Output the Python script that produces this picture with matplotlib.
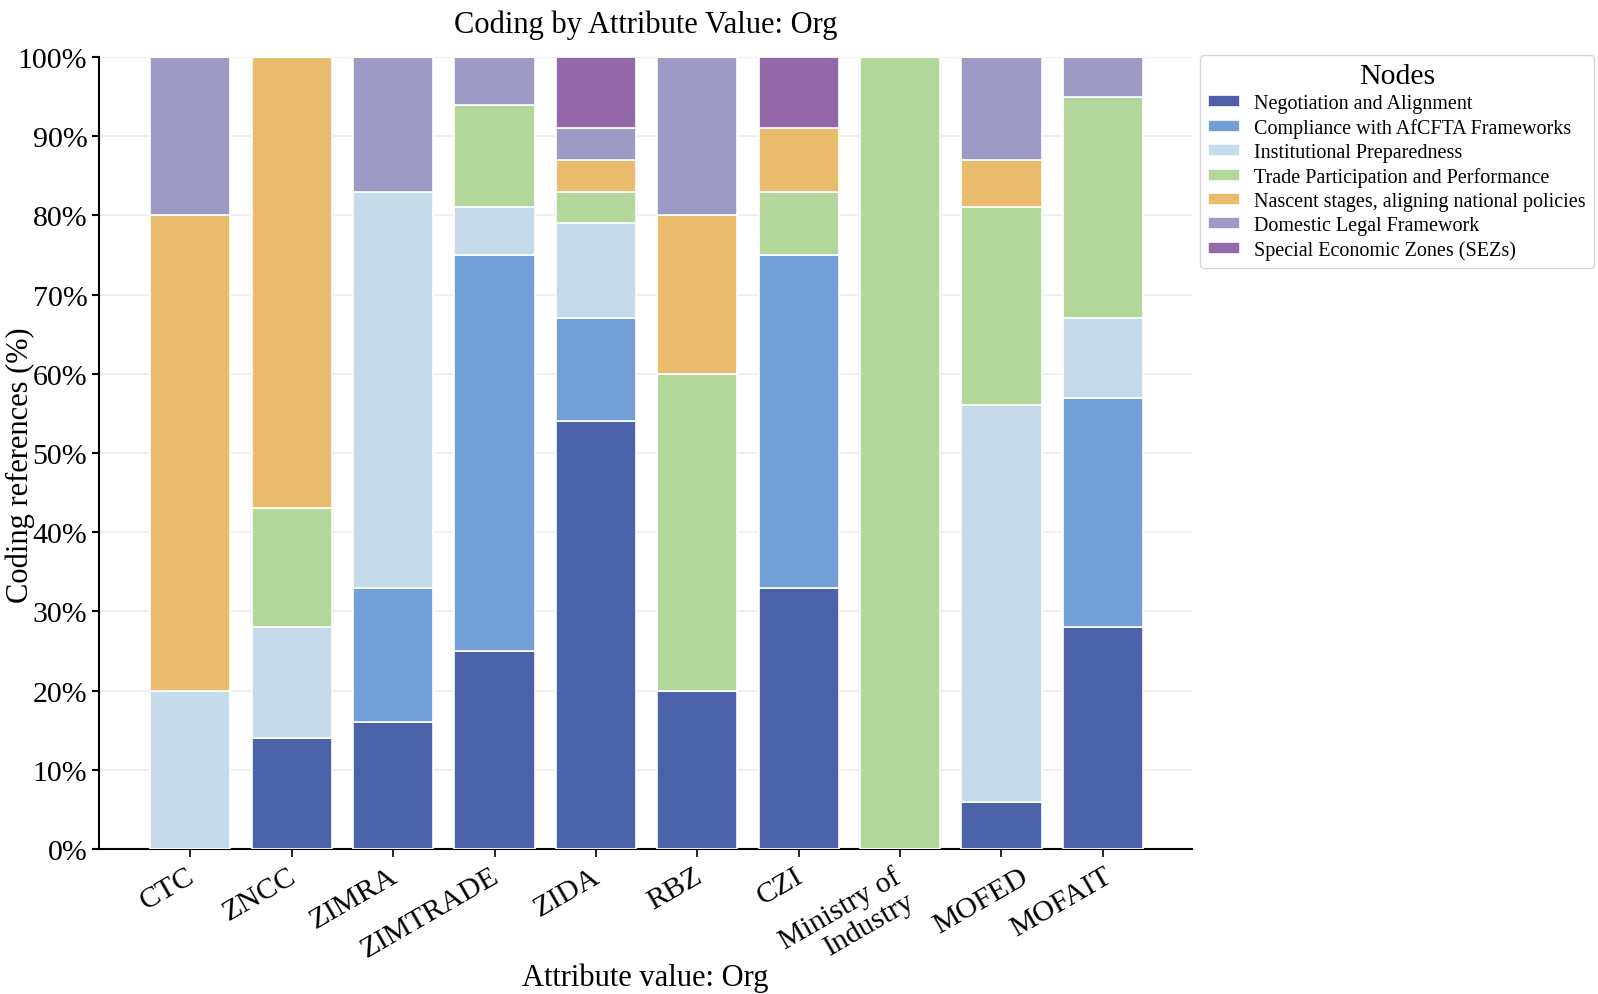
import numpy as np
import matplotlib.pyplot as plt
import matplotlib.transforms as mtransforms
from matplotlib.ticker import PercentFormatter

# Organisations (x axis)
orgs = ["CTC", "ZNCC", "ZIMRA", "ZIMTRADE", "ZIDA", "RBZ", "CZI",
        "Ministry of\nIndustry", "MOFED", "MOFAIT"]

# Nodes (stack order, bottom to top)
nodes = ["Negotiation and Alignment",
         "Compliance with AfCFTA Frameworks",
         "Institutional Preparedness",
         "Trade Participation and Performance",
         "Nascent stages, aligning national policies",
         "Domestic Legal Framework",
         "Special Economic Zones (SEZs)"]

# Share of coding references (%) per node, one value per org
negotiation   = [0, 14, 16, 25, 54, 20, 33, 0, 6, 28]
compliance    = [0, 0, 17, 50, 13, 0, 42, 0, 0, 29]
institutional = [20, 14, 50, 6, 12, 0, 0, 0, 50, 10]
trade         = [0, 15, 0, 13, 4, 40, 8, 100, 25, 28]
nascent       = [60, 57, 0, 0, 4, 20, 8, 0, 6, 0]
domestic      = [20, 0, 17, 6, 4, 20, 0, 0, 13, 5]
sez           = [0, 0, 0, 0, 9, 0, 9, 0, 0, 0]

series = [negotiation, compliance, institutional, trade, nascent, domestic, sez]
colors = ["#4c62a8", "#729fd6", "#c5dbea", "#b3d69b", "#e8bb6d", "#9d9bc5", "#9268a8"]

plt.rcParams['font.family'] = ['Liberation Serif', 'DejaVu Serif']

fig, ax = plt.subplots(figsize=(15.98, 9.95), dpi=100)
fig.subplots_adjust(left=0.062, right=0.746, top=0.9417, bottom=0.1457)

x = np.arange(len(orgs))
bottom = np.zeros(len(orgs))
for name, vals, col in zip(nodes, series, colors):
    ax.bar(x, vals, width=0.79, bottom=bottom, color=col, label=name,
           edgecolor="white", linewidth=1.2, zorder=3)
    bottom += np.array(vals)

ax.set_xlim(-0.9, 9.88)
ax.set_ylim(0, 100)
ax.set_yticks(np.arange(0, 101, 10))
ax.yaxis.set_major_formatter(PercentFormatter(decimals=0))
ax.grid(axis="y", color="#ececec", linewidth=1.2, zorder=0)

ax.set_xticks(x)
ax.set_xticklabels(orgs, rotation=30, ha="right", rotation_mode="anchor",
                   fontsize=21.5, linespacing=1.1)
ax.tick_params(axis="y", labelsize=21.5, length=5, width=1.5)
ax.tick_params(axis="x", length=6, width=1.2, pad=4)

# small horizontal nudges (pixels) so the labels sit as in the original
nudge = [-4, -4, -4, -4, -4, -4, -4, -8, 18, 0]
for lab, dx in zip(ax.get_xticklabels(), nudge):
    lab.set_transform(lab.get_transform() +
                      mtransforms.ScaledTranslation(dx / fig.dpi, 0, fig.dpi_scale_trans))

for s in ["top", "right"]:
    ax.spines[s].set_visible(False)
ax.spines["left"].set_linewidth(1.5)
ax.spines["bottom"].set_linewidth(1.5)

ax.set_title("Coding by Attribute Value: Org", fontsize=22, pad=18)
ax.set_xlabel("Attribute value: Org", fontsize=22, va="center")
ax.xaxis.set_label_coords(0.5, -0.162)
ax.set_ylabel("Coding references (%)", fontsize=22, va="center")
ax.yaxis.set_label_coords(-0.072, 0.486)

leg = ax.legend(title="Nodes", loc="upper left", bbox_to_anchor=(1.0073, 1.0025),
                borderaxespad=0, fontsize=14.5, title_fontsize=21.5, frameon=True,
                handlelength=1.6, handleheight=0.55, labelspacing=0.25,
                borderpad=0.4, handletextpad=0.7)
leg.get_frame().set_edgecolor("#cccccc")

fig.savefig("out.png", dpi=100)
